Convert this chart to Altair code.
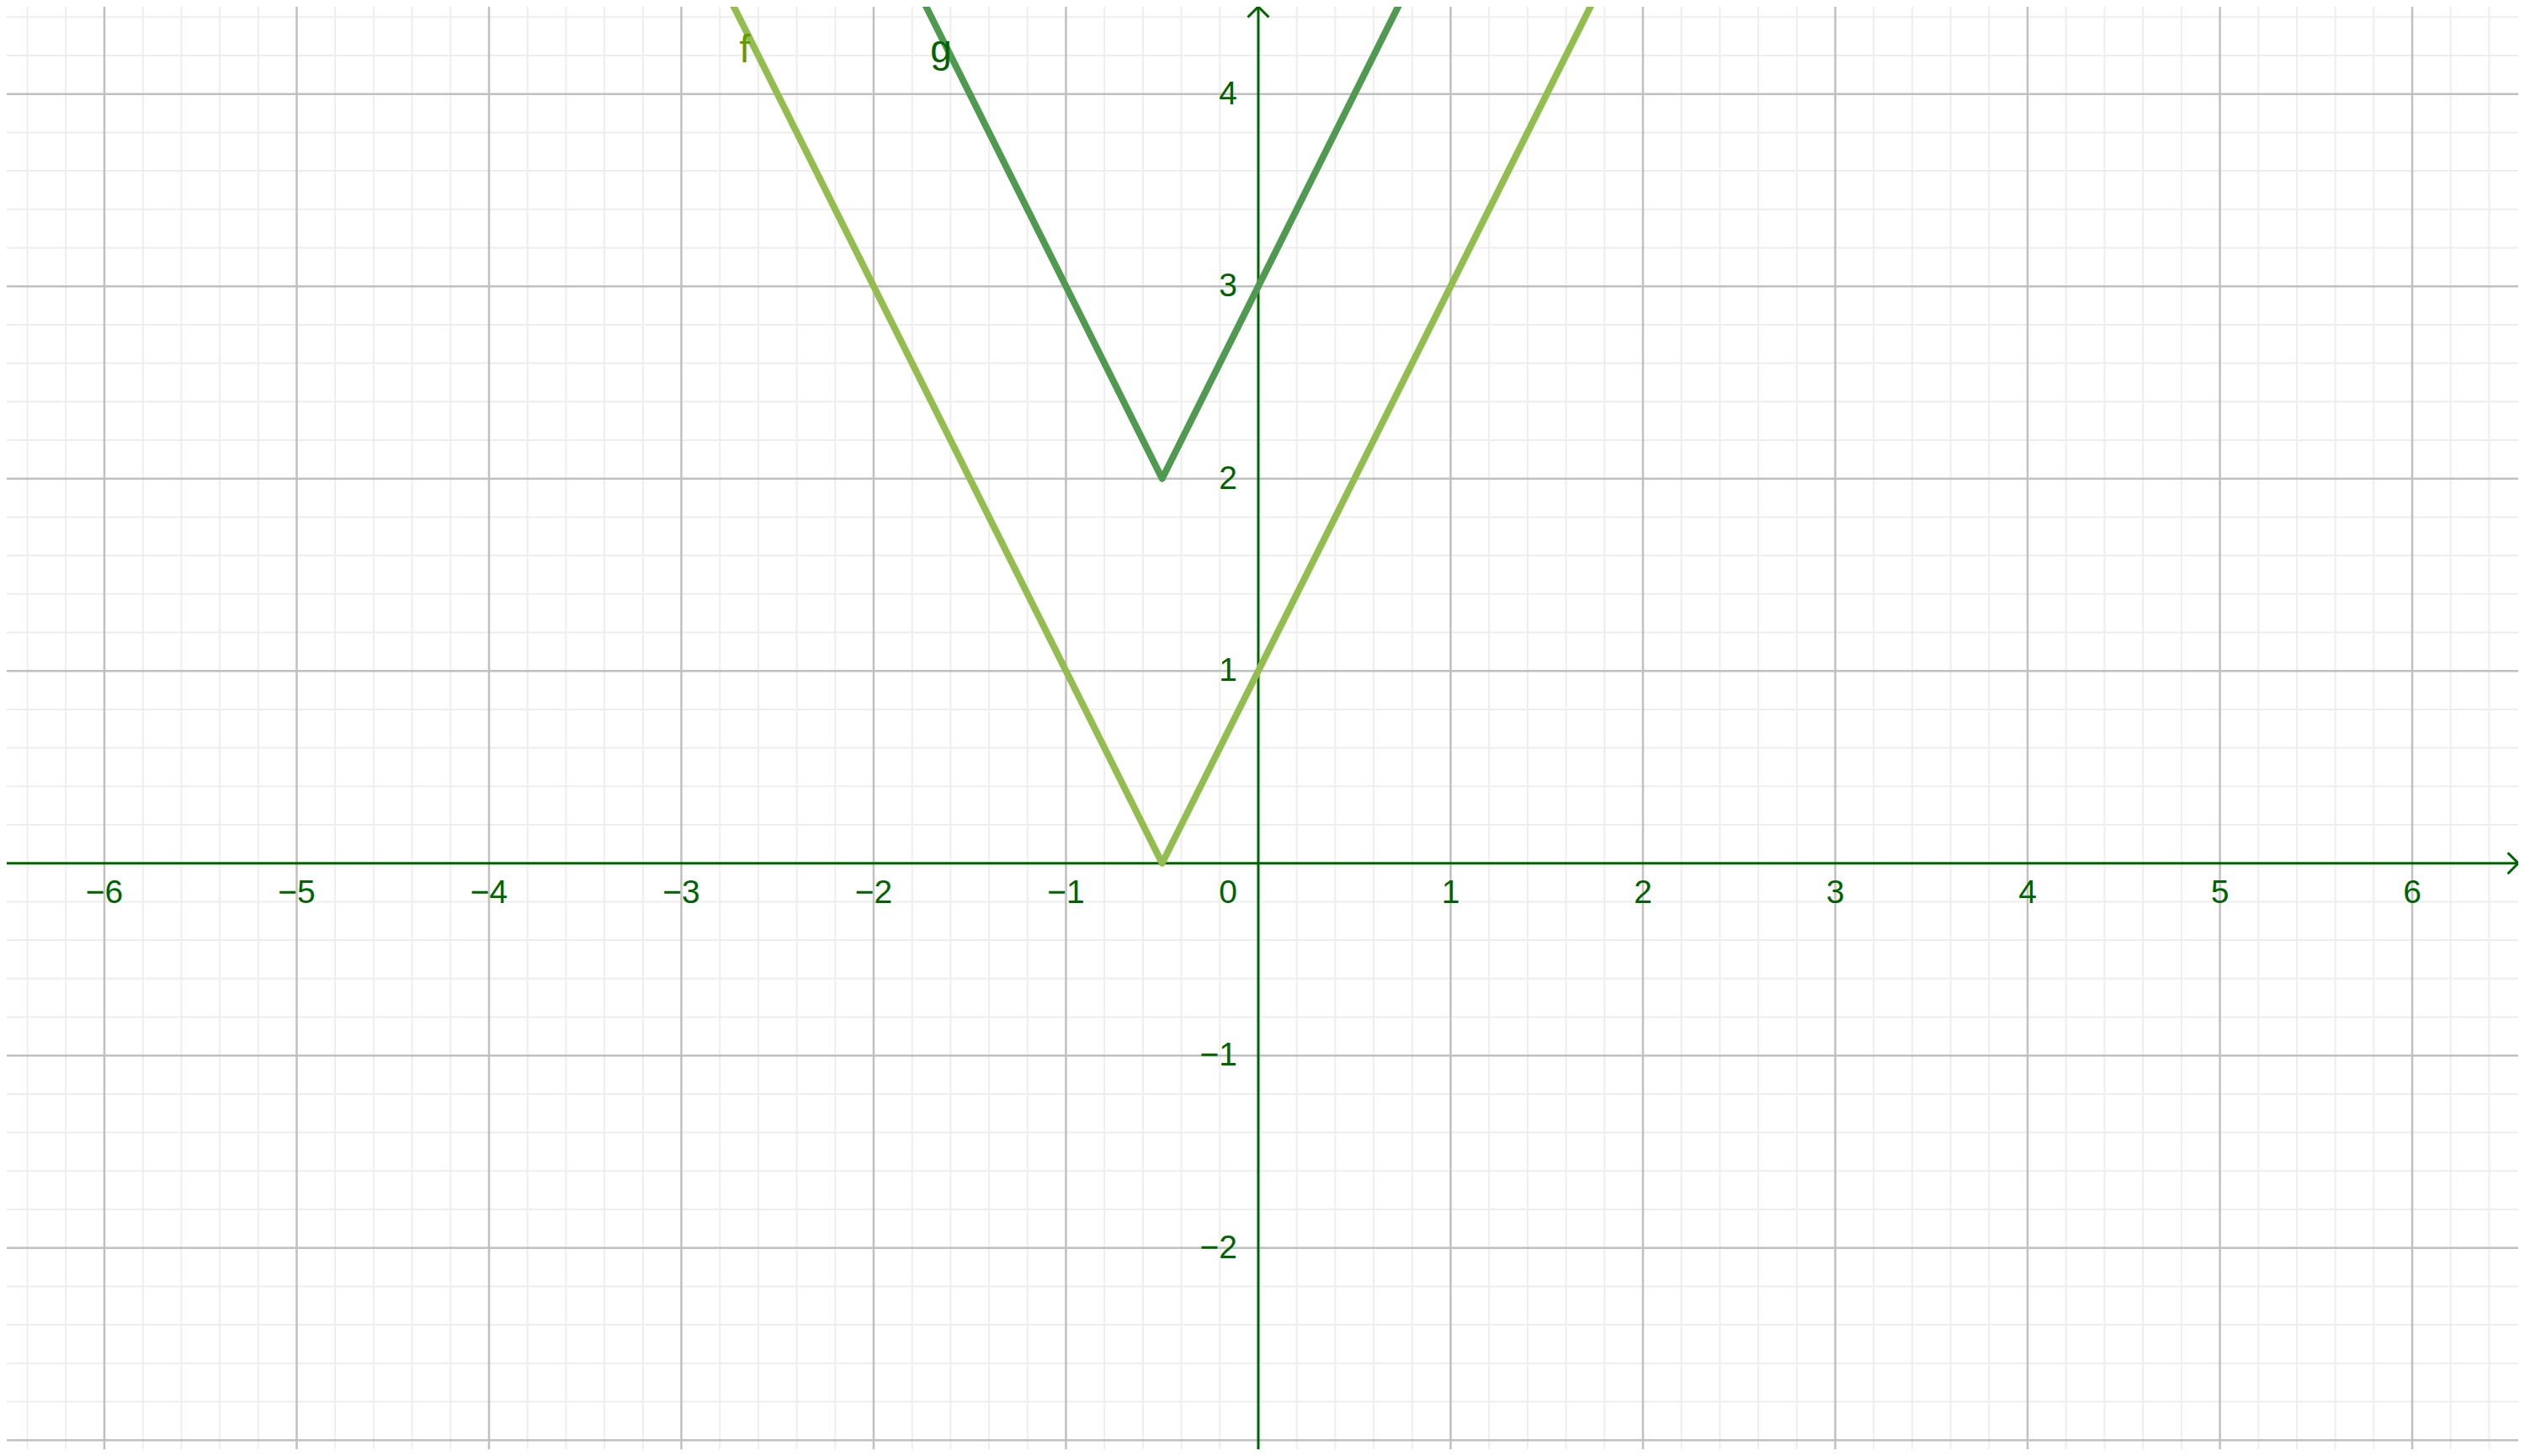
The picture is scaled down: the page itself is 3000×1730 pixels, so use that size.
import altair as alt
import numpy as np
import pandas as pd

# Functions: f(x)=|2x+1|, g(x)=|2x+1|+2 (vertices and far points)
f_x = [-3.0, -0.5, 2.0]
f_y = [5.0, 0.0, 5.0]
g_x = [-2.0, -0.5, 1.0]
g_y = [5.0, 2.0, 5.0]

x_tick_vals = [-6, -5, -4, -3, -2, -1, 1, 2, 3, 4, 5, 6]
y_tick_vals = [-2, -1, 1, 2, 3, 4]

major_x = list(range(-6, 7))
major_y = list(range(-3, 5))
minor_x = [round(v, 1) for v in np.arange(-6.4, 6.6, 0.2)]
minor_y = [round(v, 1) for v in np.arange(-3.0, 4.5, 0.2)]

fn_labels = ["f", "g"]
fn_label_x = [-2.67, -1.65]
fn_label_y = [4.165, 4.165]
fn_label_colors = ["#669900", "#006400"]

W, H = 2984, 1714
xs = alt.Scale(domain=[-6.5077, 6.5514], nice=False, zero=False)
ys = alt.Scale(domain=[-3.0473, 4.4538], nice=False, zero=False)

def fmt(v):
    return ("\u2212" + str(abs(v))) if v < 0 else str(v)

minor_vx = alt.Chart(pd.DataFrame({"v": [v for v in minor_x if abs(v - round(v)) > 1e-6]})).mark_rule(
    color="#eeeeee", strokeWidth=2).encode(x=alt.X("v:Q", scale=xs, axis=None))
minor_hy = alt.Chart(pd.DataFrame({"v": [v for v in minor_y if abs(v - round(v)) > 1e-6]})).mark_rule(
    color="#eeeeee", strokeWidth=2).encode(y=alt.Y("v:Q", scale=ys, axis=None))
major_vx = alt.Chart(pd.DataFrame({"v": [v for v in major_x if v != 0]})).mark_rule(
    color="#c0c0c0", strokeWidth=2.5).encode(x=alt.X("v:Q", scale=xs, axis=None))
major_hy = alt.Chart(pd.DataFrame({"v": [v for v in major_y if v != 0]})).mark_rule(
    color="#c0c0c0", strokeWidth=2.5).encode(y=alt.Y("v:Q", scale=ys, axis=None))

axis_x = alt.Chart(pd.DataFrame({"v": [0]})).mark_rule(color="#006400", strokeWidth=3).encode(
    y=alt.Y("v:Q", scale=ys, axis=None))
axis_y = alt.Chart(pd.DataFrame({"v": [0]})).mark_rule(color="#006400", strokeWidth=3).encode(
    x=alt.X("v:Q", scale=xs, axis=None))

arrow_r = alt.Chart(pd.DataFrame({"x": [6.5514], "y": [0]})).mark_point(
    shape="M-1,-1L0,0L-1,1", size=625, filled=False, color="#006400", strokeWidth=3, opacity=1
).encode(x=alt.X("x:Q", scale=xs, axis=None), y=alt.Y("y:Q", scale=ys, axis=None))
arrow_u = alt.Chart(pd.DataFrame({"x": [0], "y": [4.4538]})).mark_point(
    shape="M-1,1L0,0L1,1", size=625, filled=False, color="#006400", strokeWidth=3, opacity=1
).encode(x=alt.X("x:Q", scale=xs, axis=None), y=alt.Y("y:Q", scale=ys, axis=None))

df_f = pd.DataFrame({"x": f_x, "y": f_y, "o": [0, 1, 2]})
df_g = pd.DataFrame({"x": g_x, "y": g_y, "o": [0, 1, 2]})
line_f = alt.Chart(df_f).mark_line(color="#93bd4f", strokeWidth=8, clip=True, strokeJoin="round").encode(
    x=alt.X("x:Q", scale=xs, axis=None), y=alt.Y("y:Q", scale=ys, axis=None), order="o:O")
line_g = alt.Chart(df_g).mark_line(color="#4f9a50", strokeWidth=8, clip=True, strokeJoin="round").encode(
    x=alt.X("x:Q", scale=xs, axis=None), y=alt.Y("y:Q", scale=ys, axis=None), order="o:O")

FONT = "Liberation Sans"
xl = pd.DataFrame({"x": x_tick_vals, "y": [0] * len(x_tick_vals), "t": [fmt(v) for v in x_tick_vals]})
xlab = alt.Chart(xl).mark_text(font=FONT, fontSize=39, color="#006400", align="center",
                               baseline="alphabetic", dy=47).encode(
    x=alt.X("x:Q", scale=xs, axis=None), y=alt.Y("y:Q", scale=ys, axis=None), text="t:N")
zl = pd.DataFrame({"x": [0], "y": [0], "t": ["0"]})
zlab = alt.Chart(zl).mark_text(font=FONT, fontSize=39, color="#006400", align="right",
                               baseline="alphabetic", dx=-25, dy=47).encode(
    x=alt.X("x:Q", scale=xs, axis=None), y=alt.Y("y:Q", scale=ys, axis=None), text="t:N")
yl = pd.DataFrame({"x": [0] * len(y_tick_vals), "y": y_tick_vals, "t": [fmt(v) for v in y_tick_vals]})
ylab = alt.Chart(yl).mark_text(font=FONT, fontSize=39, color="#006400", align="right",
                               baseline="middle", dx=-25).encode(
    x=alt.X("x:Q", scale=xs, axis=None), y=alt.Y("y:Q", scale=ys, axis=None), text="t:N")

fl = pd.DataFrame({"x": fn_label_x, "y": fn_label_y, "t": fn_labels, "c": fn_label_colors})
flab = alt.Chart(fl).mark_text(font=FONT, fontSize=46, align="center", baseline="alphabetic").encode(
    x=alt.X("x:Q", scale=xs, axis=None), y=alt.Y("y:Q", scale=ys, axis=None), text="t:N",
    color=alt.Color("c:N", scale=None))

chart = alt.layer(
    minor_vx, minor_hy, major_vx, major_hy, axis_x, axis_y, line_f, line_g,
    arrow_r, arrow_u, xlab, zlab, ylab, flab
).properties(
    width=W, height=H, padding=0, autosize=alt.AutoSizeParams(type="none"), background="white"
).configure_view(stroke=None)

chart.save("out.html", embed_options={"renderer": "svg", "actions": False})
